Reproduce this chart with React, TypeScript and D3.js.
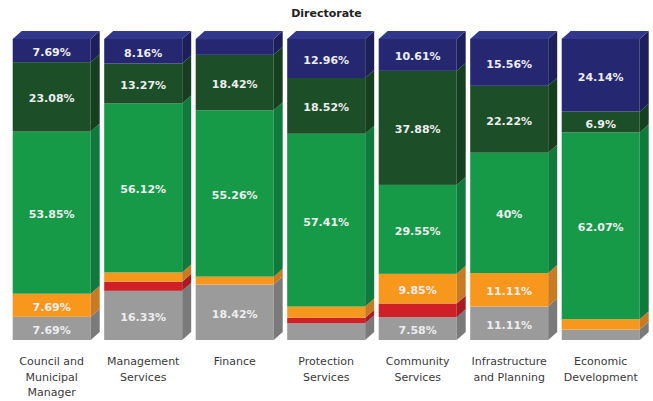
import React from "react";
import * as d3 from "d3";

const categories = [
  "Council and Municipal Manager",
  "Management Services",
  "Finance",
  "Protection Services",
  "Community Services",
  "Infrastructure and Planning",
  "Economic Development",
];
const categoryLines = [
  ["Council and", "Municipal", "Manager"],
  ["Management", "Services"],
  ["Finance"],
  ["Protection", "Services"],
  ["Community", "Services"],
  ["Infrastructure", "and Planning"],
  ["Economic", "Development"],
];
const gray = [7.69, 16.33, 18.42, 5.56, 7.58, 11.11, 3.45];
const red = [0, 3.06, 0, 1.85, 4.55, 0, 0];
const orange = [7.69, 3.06, 2.63, 3.7, 9.85, 11.11, 3.45];
const green = [53.85, 56.12, 55.26, 57.41, 29.55, 40, 62.07];
const darkGreen = [23.08, 13.27, 18.42, 18.52, 37.88, 22.22, 6.9];
const navy = [7.69, 8.16, 5.26, 12.96, 10.61, 15.56, 24.14];

const seriesKeys = ["gray", "red", "orange", "green", "darkGreen", "navy"];
const seriesValues: Record<string, number[]> = { gray, red, orange, green, darkGreen, navy };
const frontColors: Record<string, string> = {
  gray: "#9b9b9b",
  red: "#cf2027",
  orange: "#f7981d",
  green: "#169a48",
  darkGreen: "#1c4f28",
  navy: "#252871",
};
const sideColors: Record<string, string> = {
  gray: "#7a7a7a",
  red: "#a51c22",
  orange: "#c97b24",
  green: "#0f7a3b",
  darkGreen: "#153f1f",
  navy: "#1c1f5a",
};
const topColor = "#31378a";

const W = 653;
const H = 401;
const DX = 9;
const DY = 8;

export default function App() {
  const rows = categories.map((c, i) => {
    const r: any = { cat: c };
    seriesKeys.forEach((k) => (r[k] = seriesValues[k][i]));
    return r;
  });
  const stacked = d3.stack().keys(seriesKeys)(rows);

  const x = d3
    .scaleBand<string>()
    .domain(categories)
    .range([12.7, 639.7])
    .paddingInner(0.1475)
    .paddingOuter(0);
  const y = d3.scaleLinear().domain([0, 100]).range([340, 39]);
  const bw = x.bandwidth();

  const fronts: React.ReactNode[] = [];
  const sides: React.ReactNode[] = [];
  const labels: React.ReactNode[] = [];

  stacked.forEach((s) => {
    const key = s.key;
    s.forEach((d, i) => {
      const v = seriesValues[key][i];
      if (!v) return;
      const cat = categories[i];
      const x0 = x(cat)!;
      const x1 = x0 + bw;
      const yTop = y(d[1]);
      const yBot = y(d[0]);
      fronts.push(
        <rect key={`f-${key}-${i}`} x={x0} y={yTop} width={bw} height={yBot - yTop} fill={frontColors[key]} />
      );
      sides.push(
        <polygon
          key={`s-${key}-${i}`}
          points={`${x1},${yTop} ${x1 + DX},${yTop - DY} ${x1 + DX},${yBot - DY} ${x1},${yBot}`}
          fill={sideColors[key]}
        />
      );
      if (v >= 6) {
        labels.push(
          <text
            key={`l-${key}-${i}`}
            x={x0 + bw / 2}
            y={(yTop + yBot) / 2 + 2}
            dominantBaseline="central"
            textAnchor="middle"
            fill="#ededf0"
            fontSize={11}
            fontWeight="bold"
            fontFamily="'DejaVu Sans', sans-serif"
          >
            {`${v}%`}
          </text>
        );
      }
    });
  });

  const tops = categories.map((cat) => {
    const x0 = x(cat)!;
    const x1 = x0 + bw;
    const y0 = y(100);
    return (
      <polygon
        key={`t-${cat}`}
        points={`${x0},${y0} ${x0 + DX},${y0 - DY} ${x1 + DX},${y0 - DY} ${x1},${y0}`}
        fill={topColor}
      />
    );
  });

  return (
    <svg
      width={W}
      height={H}
      style={{ position: "absolute", left: 0, top: 0, background: "#fff" }}
    >
      <text
        x={326.5}
        y={13}
        dominantBaseline="central"
        textAnchor="middle"
        fontFamily="'DejaVu Sans', sans-serif"
        fontWeight="bold"
        fontSize={11}
        fill="#222"
      >
        Directorate
      </text>
      {fronts}
      {sides}
      {tops}
      {labels}
      {categories.map((cat, i) => (
        <text
          key={`c-${i}`}
          textAnchor="middle"
          fontFamily="'DejaVu Sans', sans-serif"
          fontSize={11}
          fill="#3a3a3a"
        >
          {categoryLines[i].map((ln, j) => (
            <tspan key={j} x={x(cat)! + bw / 2} y={361.7 + j * 15.5} dominantBaseline="central">
              {ln}
            </tspan>
          ))}
        </text>
      ))}
    </svg>
  );
}
